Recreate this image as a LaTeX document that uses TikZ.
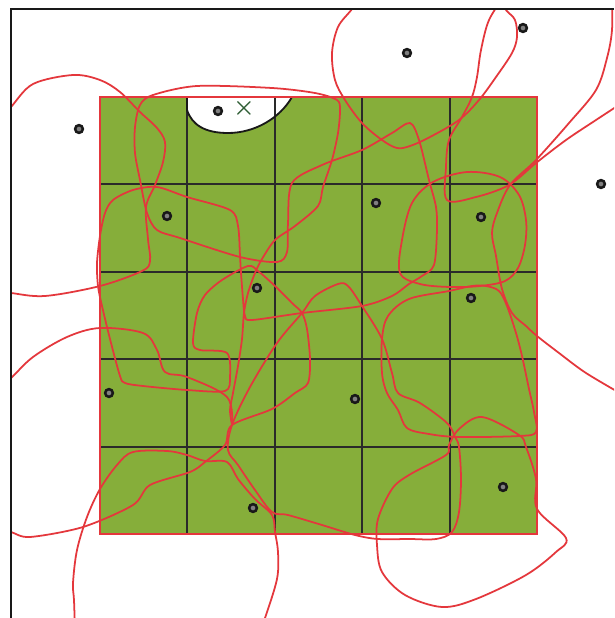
\documentclass[tikz,border=0pt]{standalone}
\usepackage{xcolor}
\usepackage{tikz}
\definecolor{fieldGreen}{HTML}{86AE3A}
\definecolor{rangeRed}{HTML}{E4373C}
\definecolor{gridGray}{HTML}{2A2A2A}
\definecolor{crossGreen}{HTML}{2F5E35}
\tikzset{
  cover line/.style={draw=rangeRed, line width=1.25pt, line join=round},
  cell line/.style={draw=gridGray, line width=1.45pt},
  field edge/.style={draw=rangeRed, line width=1.4pt},
  frame line/.style={draw=black!90, line width=1.5pt},
  hole edge/.style={draw=black!90, line width=1.3pt},
  sensor/.style={circle, draw=black!90, fill=black!50, line width=1.8pt,
    minimum size=5.5pt, inner sep=0pt},
  target/.style={text=crossGreen, font=\LARGE\boldmath, inner sep=0pt}
}

\begin{document}
\begin{tikzpicture}[x=0.025cm, y=-0.025cm]
  \useasboundingbox (0,0) rectangle (614,618);
  \fill[white] (0,0) rectangle (614,618);

  \fill[fieldGreen] (100,97) rectangle (537,534);
  \fill[white] (187,97) -- (187,110) .. controls (192,125) and (205,133) .. (228,133)
    .. controls (255,133) and (280,118) .. (292,97) -- cycle;
  \foreach \k in {1,...,4} {
    \draw[cell line] ({100+87.4*\k},97) -- ({100+87.4*\k},534);
    \draw[cell line] (100,{97+87.4*\k}) -- (537,{97+87.4*\k});
  }
  \draw[hole edge] (187,97) -- (187,110) .. controls (192,125) and (205,133) .. (228,133)
    .. controls (255,133) and (280,118) .. (292,97);
  \draw[field edge] (100,97) rectangle (537,534);

  \begin{scope}
    \clip (11,9) rectangle (614,618);
    \draw[cover line] plot[smooth, tension=0.55] coordinates {(0,118) (11,107) (33,84)
      (73,75) (100,80) (120,92) (140,112) (157,128) (165,142) (163,162) (155,185)
      (146,207) (148,239) (150,261) (142,271) (100,286) (45,296) (11,293) (0,292)};
    \draw[cover line] plot[smooth, tension=0.55] coordinates {(365,-10) (352,9) (338,27)
      (332,53) (335,80) (345,100) (362,123) (382,140) (397,148) (410,146) (430,137)
      (459,120) (479,100) (496,77) (512,53) (517,37) (515,20) (506,10) (496,-5)};
    \draw[cover line] plot[smooth, tension=0.5] coordinates {(232,425) (230,410)
      (233,393) (238,366) (242,339) (244,313) (248,293) (255,273) (262,259)
      (275,240) (295,226) (318,206) (323,187) (332,160) (338,133) (340,110)
      (337,100) (315,93) (272,88) (197,86) (153,95) (140,105) (135,127) (135,153)
      (140,180) (147,213) (157,230) (180,238) (240,257) (277,262) (287,252)
      (288,223) (292,183) (322,165) (362,150) (392,133) (410,123) (419,140)
      (429,180) (436,207) (437,230) (434,265) (422,276) (409,284) (392,296)
      (362,306) (302,313) (252,320) (245,316) (243,299) (241,273) (240,256)
      (238,226) (230,210) (187,197) (157,187) (133,190) (113,200) (105,213)
      (100,236) (97,263) (98,286) (102,306) (110,339) (120,376) (125,383)
      (143,386) (187,390) (225,391) (230,377) (227,353) (200,350) (193,343)
      (197,313) (205,295) (222,280) (248,266) (258,271) (275,286) (292,303)
      (302,313) (307,329) (310,359) (308,383) (295,393) (272,409) (232,425)
      (225,445) (205,462) (190,472) (150,485) (133,505) (83,527) (30,537)
      (11,532) (0,530)};
    \draw[cover line] plot[smooth, tension=0.55] coordinates {(0,385) (11,378) (33,357)
      (67,337) (100,328) (143,333) (157,350) (165,372) (187,377) (227,397)
      (232,425)};
    \draw[cover line] plot[smooth cycle, tension=0.55] coordinates {(302,313) (315,296)
      (338,284) (348,286) (362,306) (382,339) (392,373) (398,393) (420,403)
      (447,423) (455,437) (459,447) (461,479) (459,512) (452,532) (436,539)
      (409,539) (378,539) (355,535) (322,525) (288,515) (272,512) (255,490)
      (238,465) (228,450) (232,425) (250,387) (277,343)};
    \draw[cover line] plot[smooth, tension=0.55] coordinates {(75,630) (74,600) (73,583)
      (77,550) (87,517) (100,489) (117,465) (133,452) (167,451) (187,455)
      (205,461) (227,462) (238,479) (255,499) (272,515) (275,532) (278,552)
      (277,579) (265,618) (260,630)};
    \draw[cover line] plot[smooth cycle, tension=0.55] coordinates {(409,475) (446,455)
      (449,445) (459,429) (482,417) (519,435) (526,447) (536,479) (537,509)
      (566,538) (556,552) (526,575) (476,599) (442,607) (405,595) (382,572)
      (377,545) (378,519) (392,489)};
    \draw[cover line] plot[smooth cycle, tension=0.55] coordinates {(409,299) (449,291)
      (472,286) (486,286) (499,291) (507,306) (516,333) (522,356) (529,389)
      (534,412) (536,432) (519,436) (459,437) (429,434) (407,428) (398,410)
      (387,393) (382,373) (382,339) (388,316)};
    \draw[cover line] plot[smooth cycle, tension=0.55] coordinates {(400,273) (402,240)
      (412,203) (433,182) (467,172) (500,177) (519,195) (526,220) (525,245)
      (518,268) (505,281) (480,286) (450,287) (420,284)};
    \draw[cover line] plot[smooth, tension=0.55] coordinates {(612,-5) (612,30) (607,58)
      (596,90) (569,123) (536,160) (510,185) (497,213) (492,233) (496,256)
      (502,289) (512,313) (526,326) (537,336) (559,353) (586,373) (625,396)};
    \draw[cover line] plot[smooth, tension=0.55] coordinates {(505,-5) (489,20) (481,50)
      (477,77) (472,97) (462,117) (449,140) (446,167) (447,200) (476,197)
      (509,185) (536,163) (566,140) (596,120) (625,101)};
  \end{scope}

  \node[sensor] (s1) at (79,129) {};
  \node[sensor] (s2) at (218,111) {};
  \node[sensor] (s3) at (407,53) {};
  \node[sensor] (s4) at (523,28) {};
  \node[sensor] (s5) at (601,184) {};
  \node[sensor] (s6) at (167,216) {};
  \node[sensor] (s7) at (376,203) {};
  \node[sensor] (s8) at (481,217) {};
  \node[sensor] (s9) at (257,288) {};
  \node[sensor] (s10) at (471,298) {};
  \node[sensor] (s11) at (109,393) {};
  \node[sensor] (s12) at (355,399) {};
  \node[sensor] (s13) at (503,487) {};
  \node[sensor] (s14) at (253,508) {};
  \node[target] (goal) at (244,108) {$\times$};

  \draw[frame line] (11,618) -- (11,9) -- (614,9);
\end{tikzpicture}
\end{document}
